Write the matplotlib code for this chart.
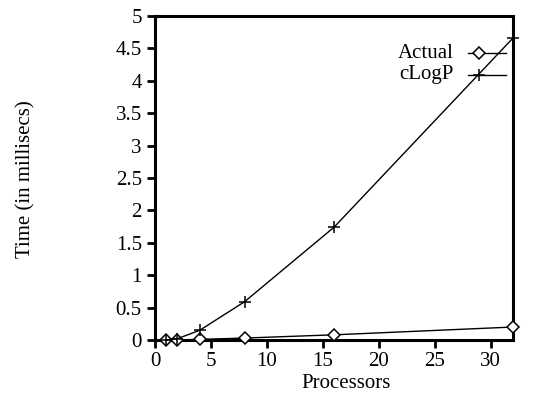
import matplotlib
matplotlib.use("Agg")
import matplotlib.pyplot as plt
from matplotlib.lines import Line2D

plt.rcParams['font.family'] = ['Liberation Serif', 'DejaVu Serif']

processors = [1, 2, 4, 8, 16, 32]
actual = [0.0, 0.0, 0.01, 0.03, 0.08, 0.20]
clogp = [0.0, 0.02, 0.15, 0.59, 1.74, 4.66]
xticks = [0, 5, 10, 15, 20, 25, 30]
yticks = [0, 0.5, 1, 1.5, 2, 2.5, 3, 3.5, 4, 4.5, 5]
ytick_labels = ['0', '0.5', '1', '1.5', '2', '2.5', '3', '3.5', '4', '4.5', '5']
series_names = ['Actual', 'cLogP']

W, H = 546, 400
FS = 15
fig = plt.figure(figsize=(W / 100, H / 100), dpi=100)
ax = fig.add_axes([155 / W, 1 - 340 / H, (513 - 155) / W, (340 - 16) / H])

dkw = dict(marker='D', markersize=6.5, markerfacecolor='white',
           markeredgecolor='black', markeredgewidth=1.1)
pkw = dict(marker='+', markersize=8, markeredgewidth=1.1, markeredgecolor='black')

ax.plot(processors, actual, color='black', lw=1.0, clip_on=False, zorder=3, **dkw)
ax.plot(processors, clogp, color='black', lw=1.0, clip_on=False, zorder=3, **pkw)

ax.set_xlim(0, 32)
ax.set_ylim(0, 5)
ax.set_xticks(xticks)
ax.set_yticks(yticks)
ax.set_yticklabels(ytick_labels)
ax.tick_params(direction='out', length=6, width=2, labelsize=FS)
ax.tick_params(axis='y', pad=3.5)
ax.tick_params(axis='x', pad=3)
for s in ax.spines.values():
    s.set_linewidth(2.2)

fig.text(346 / W, 1 - 383 / H, 'Processors', fontsize=FS, ha='center', va='center')
fig.text(26 / W, 1 - 179 / H, 'Time (in millisecs)', rotation=90, fontsize=FS,
         ha='center', va='center')

# legend (drawn manually in gnuplot style)
rows = [(53, dkw), (75, pkw)]
for name, (yy, kw) in zip(series_names, rows):
    yf = 1 - yy / H
    fig.text(454 / W, yf, name, fontsize=FS, ha='right', va='center')
    fig.add_artist(Line2D([468 / W, 506 / W], [yf, yf], transform=fig.transFigure,
                          color='black', lw=1.0))
    fig.add_artist(Line2D([479 / W], [yf], transform=fig.transFigure,
                          color='black', lw=0, **kw))

fig.savefig('out.png', dpi=100)
